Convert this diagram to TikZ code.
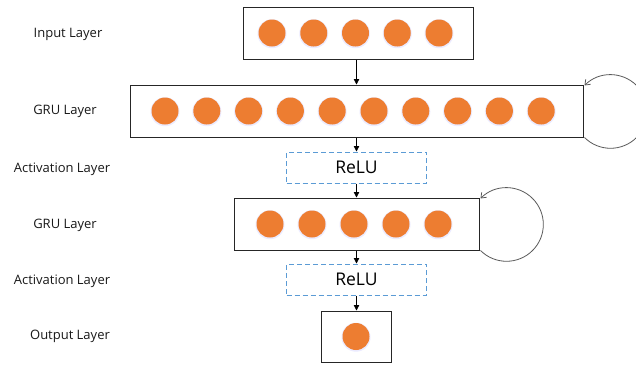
\documentclass[tikz,border=0pt]{standalone}
\usepackage{fontspec}
\setmainfont{Open Sans}
\usetikzlibrary{arrows.meta}
\definecolor{dot}{HTML}{ED7D31}
\definecolor{dashblue}{HTML}{5B9BD5}
\definecolor{loopgray}{HTML}{595959}
\begin{document}
\begin{tikzpicture}[x=1pt,y=-1pt,
  layer/.style={draw=black!85, line width=1pt, minimum width=#1, minimum height=52pt, inner sep=0pt},
  actbox/.style={draw=dashblue, line width=1pt, dash pattern=on 5pt off 3pt, minimum width=140pt, minimum height=31pt, inner sep=0pt, font=\fontsize{17.5}{20}\selectfont},
  neuron/.style={circle, fill=dot, minimum size=27pt, inner sep=0pt},
  halo/.style={circle, fill=blue!8, minimum size=29pt, inner sep=0pt},
  lbl/.style={font=\fontsize{13}{15}\selectfont, text=black!90},
  arr/.style={-{Triangle[length=5.5pt,width=5.5pt]}, line width=0.8pt, black},
  loop/.style={-{Straight Barb[length=4.5pt,width=7pt]}, line width=0.8pt, loopgray}
]
\clip (0,0) rectangle (636,365);
\fill[white] (0,0) rectangle (636,365);

% labels
\node[lbl] (l1) at (68,34) {Input Layer};
\node[lbl] (l2) at (65,111) {GRU Layer};
\node[lbl] (l3) at (62,169) {Activation Layer};
\node[lbl] (l4) at (65,225) {GRU Layer};
\node[lbl] (l5) at (62,281) {Activation Layer};
\node[lbl] (l6) at (70,336) {Output Layer};

% boxes
\node[layer=230pt] (input) at (358,33) {};
\node[layer=453pt] (gru1) at (356.5,111) {};
\node[actbox] (relu1) at (356.5,167.5) {ReLU};
\node[layer=245pt] (gru2) at (356.5,224) {};
\node[actbox] (relu2) at (356.5,279.5) {ReLU};
\node[layer=70pt, minimum height=51pt] (out) at (356.5,336.5) {};

% neurons
\foreach \i in {0,...,4} {
  \node[halo] (hi\i) at ({272+41.75*\i},33.7) {};
  \node[neuron] (ni\i) at ({272+41.75*\i},33) {};
}
\foreach \i in {0,...,9} {
  \node[halo] (hg\i) at ({165+41.8*\i},111.7) {};
  \node[neuron] (ng\i) at ({165+41.8*\i},111) {};
}
\foreach \i in {0,...,4} {
  \node[halo] (hh\i) at ({270+42*\i},224.7) {};
  \node[neuron] (nh\i) at ({270+42*\i},224) {};
}
\node[halo] (ho) at (356,337.2) {};
\node[neuron] (no) at (356,336.5) {};

% connectors
\draw[arr] (gru1.north |- input.south) -- (gru1.north);
\draw[arr] (gru1.south) -- (relu1.north);
\draw[arr] (relu1.south) -- (gru2.north);
\draw[arr] (gru2.south) -- (relu2.north);
\draw[arr] (relu2.south) -- (out.north);

% recurrent loops
\draw[loop] ([xshift=1pt]gru1.south east) arc[start angle=135, end angle=-135, radius=36.8];
\draw[loop] ([xshift=1pt]gru2.south east) arc[start angle=135, end angle=-135, radius=36.8];
\end{tikzpicture}
\end{document}
